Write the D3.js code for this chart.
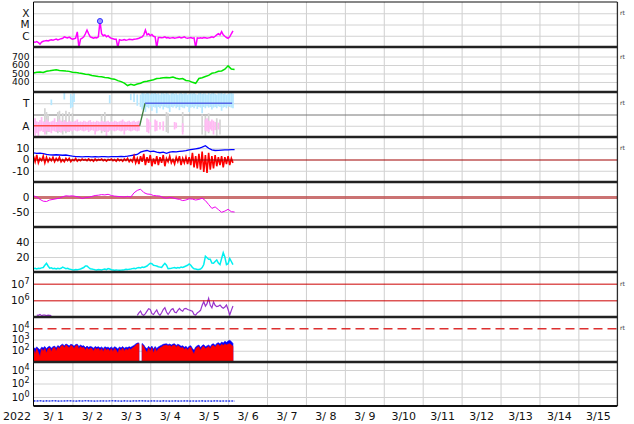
<!DOCTYPE html>
<html><head><meta charset="utf-8">
<script src="https://cdn.jsdelivr.net/npm/d3@7"></script>
<style>body{margin:0;background:#fff} text{font-family:"DejaVu Sans",sans-serif}</style>
</head><body><svg id="c" width="634" height="424"></svg>
<script>
// ---------------- DATA (hourly from 2022-03-01 00:00 unless noted) ----------------
const xLabels = ["3/ 1","3/ 2","3/ 3","3/ 4","3/ 5","3/ 6","3/ 7","3/ 8","3/ 9","3/10","3/11","3/12","3/13","3/14","3/15"];
const yearLabel = "2022";

// Panel 1: X-ray flux (W/m2), hourly
const xray = [2.8e-7,2.6e-7,3e-7,2.5e-7,1.8e-7,2.7e-7, 3.2e-7,3.5e-7,3.8e-7,3.4e-7,4e-7,4.3e-7,
  4e-7,4.5e-7,5e-7,4.2e-7,4.8e-7,5.5e-7, 6e-7,8e-7,7e-7,6.5e-7,7.5e-7,6e-7,
  5e-7,5.5e-7,6e-7,2.2e-6,9e-8,5e-7, 6e-7,8e-7,1.5e-6,3.2e-6,1.5e-6,8e-7,
  7e-7,6e-7,7e-7,6.5e-7,8e-7,2e-5, 1.5e-6,1e-6,1.2e-6,8e-7,1e-6,7e-7,
  6e-7,5.5e-7,5e-7,5e-7,9e-8,4.5e-7, 4e-7,4.2e-7,4.5e-7,4e-7,4.3e-7,4.8e-7,
  4.6e-7,4.4e-7,4.8e-7,5e-7,5.5e-7,6e-7, 7e-7,8e-7,1.2e-6,3.2e-6,1.2e-6,1.5e-6,
  1e-6,1.3e-6,9e-7,8e-7,9e-8,7e-7, 7e-7,6.5e-7,7e-7,8e-7,6.5e-7,7e-7,
  6e-7,6.5e-7,7e-7,6e-7,6.5e-7,7e-7, 7.5e-7,6.5e-7,7e-7,8e-7,6.5e-7,6e-7,
  6.5e-7,7e-7,6e-7,6.5e-7,9e-8,6.5e-7, 6e-7,6.5e-7,6e-7,7e-7,6.5e-7,6e-7,
  6.5e-7,7e-7,8e-7,7e-7,9e-7,1.2e-6, 1.5e-6,1.2e-6,2.3e-6,1.2e-6,9e-7,7e-7,
  6e-7,8e-7,1.5e-6,2.7e-6];
const flareHours = [41];
const flareFlux = [2e-5];
const xrayTicks = [1e-6,1e-5,1e-4];
const xrayTickLabels = ["C","M","X"];

// Panel 2: solar wind speed (km/s), every 2 hours
const speed = [505,515,518,511,527,531,538,543,535,533, 528,525,514,513,506,501,492,489,476,471,
  464,461,453,449,438,433,416,404,386,358, 374,362,377,386,402,408,417,426,440,443,
  450,453,449,459,445,436,441,418,413,396, 384,441,450,464,478,502,510,527,530,550,
  590,553,546];
const speedTicks = [400,500,600,700];

// Panel 3: IMF sector angle (deg); A = 90, T = 270
const sectorTicks = [90,270];
const sectorTickLabels = ["A","T"];
const sectorHours = [0,65.5,68.8,122.5];
const sectorAngles = [90,90,270,270];
const awayHi = [130,150,125,120,135,160,125,120,140,130,120, 125,130,150,120,125,140,130,120,135,125,120,
  130,125,120,125,130,140,120,125,120,130,125, 120,130,135,120,125,120,130,125,120,130,125,
  120,125,130,120,125,120,130,125,120,125,130, 140,125,120,125,130,120,125,130,120,125,130];
const awayLo = [40,10,30,5,45,50,40,20,50,45,40, 30,50,45,40,50,45,35,50,45,50,40,
  45,50,45,55,50,45,50,55,50,45,50, 55,40,50,55,50,20,45,50,55,50,45,
  50,10,40,50,55,50,45,50,55,50,45, 50,20,50,55,50,45,50,55,50,45,50];
const towardStart = 66;
const towardHi = [340,355,350,345,358,350,340,352,348,355, 345,350,340,355,350,345,352,348,340,350,
  355,345,350,340,348,352,345,350,355,340, 345,350,348,352,345,340,350,355,345,350,
  348,340,352,345,350,355,345,340,350,348, 352,345,350,340,345,350,352,348];
const towardLo = [240,220,235,200,240,230,245,210,240,235, 190,240,230,245,220,240,235,230,200,240,
  235,245,230,240,215,240,235,230,245,240, 200,235,240,230,245,225,240,235,190,240,
  230,245,235,240,220,235,240,230,245,240, 210,235,240,230,245,240,235,230];
const towardStreaks = [[11,255,300],[19,300,355],[23,230,345],[24,240,330],[25,280,350],[47,270,335],[60,295,345],[62,280,350],[64,250,340]];
const awayStreaks = [[70,40,150],[71,30,140],[72,60,120],[75,45,140],[76,50,130],[78,60,120],[80,50,125],[87,60,120],[88,70,115],[92,20,110],[106,50,140],[107,45,150],[108,40,130],[109,60,125],[110,50,140],[111,20,130],[112,55,120],[114,60,115]];
const grayStreaks = [[7,30,230],[8,20,200],[9,40,180],[15,30,200],[16,40,210],[18,20,190],[20,30,210],[22,40,200],[24,20,190],[42,30,180],[44,40,200],[48,20,170],[82,40,200],[83,30,190],[92,40,200],[104,20,180],[106,10,170],[108,30,190],[113,10,150],[115,20,140]];

// Panel 4: IMF Bt (2-hourly) and Bz (hourly), nT
const bt = [5.8,5.5,5.6,5.2,4.5,4.2,4,4.2,4,3.8, 4,3.5,3,2.6,2.5,2.4,2.6,2.5,2.3,2.5,
  2.4,2.6,2.5,2.4,2.5,2.6,2.5,2.8,2.6,3, 3.5,4,4.5,6.5,7.5,8,7,7.5,6.5,6,
  6.5,5.5,6.5,7,6.8,7.2,7.5,7.8,8.5,9, 9.5,10,11,12.3,10,8.5,8,8.2,8.4,8.5,
  8.6,8.8,8.7];
const bz = [3,-2,4,-3,1,-1,3,-3,2,-2,1,-1, 2,-2,1,-1,2,-2,0,-2,1,-1,1,-2,
  0,-1,1,-1.5,0,-1,0.5,-0.5,0,-1,0.5,-1, 0,-1.5,0.5,-1,0,-0.5,0.5,-1,0,-1.5,0,-0.5,
  0.5,-1,0,-1.5,0.5,-1,0,-1.5,0.5,-1,1,-2, 0,-2,3,-3,1,-4,3,-2,5,-5,2,-3,
  4,-6,1,-4,3,-5,2,-3,4,-6,1,-2, 3,-3,0,-4,2,-2,3,-5,1,-3,2,-4,
  2,-5,6,-7,3,-8,5,-9,7,-11,4,-12, 6,-9,3,-8,4,-6,2,-5,3,-7,2,-4,
  3,-5,1,-3];
const imfTicks = [-10,0,10];

// Panel 5: Dst (nT), every 2 hours
const dst = [4,0,-8,-14,-15,-10,-8,-6,-4,1, 4,3,4,2,0,-5,-2,-1,2,5,
  6,8,7,9,5,3,2,1,0,2, 0,14,22,26,15,10,9,5,4,3,
  -2,-4,-1,-3,-6,-8,-12,-10,-6,-7, -10,-8,-4,-12,-25,-38,-33,-42,-51,-47,
  -41,-49,-50];
const dstTicks = [-50,0];

// Panel 6: density, hourly
const dens = [4.5,5,4.2,5,4.8,5.5,6,9,11.6,8, 5,5.5,4.5,5,4.2,5,4.5,5,6.5,5.5,
  4.5,5,4,3.5,3,2.7,3.2,3,3.5,4, 5,6,8,8,6,4.4,4,3.5,3,2.8,
  3.2,3,2.8,3.5,4,3.2,4.5,4,3,2.8, 2.5,2.8,2.5,2.2,2.5,2.8,3,3.5,3.2,3.8,
  4,4.5,5,4.5,5.5,6,5.5,6.5,6,7, 8,10,11.6,11,9,8.5,8,7,6.5,6.2,
  9,11.6,9,4.4,4.8,5,5.5,6,5.2,6, 5.5,6.5,6,7,8,9,10.7,9,6,4.4,
  4,3.5,3.5,4,6,10,21,19,17,16.9, 12,11.6,14,16,12,9.8,18,25.8,20,9.8,
  11,18,14,9.8];
const densTicks = [20,40];

// Panel 7: proton flux (hourly segments)
const protonEarlyStart = 2;
const protonEarly = [1.3e5,1.25e5,1.4e5,1.2e5,1.3e5,1.28e5,1.22e5,1.3e5,1.25e5,1.2e5];
const protonLateStart = 64;
const protonLate = [1.26e5,1.78e5,2.29e5,1.41e5,1.26e5,1.58e5,2.24e5,3.16e5,2.82e5,1.58e5,
  1.41e5,2e5,2.63e5,1.58e5,1.26e5,1.78e5,2.82e5,3.63e5,2e5,1.41e5,
  2e5,2.82e5,3.16e5,2e5,1.78e5,2.51e5,3.31e5,2.51e5,2.24e5,3.16e5,
  3.31e5,2.82e5,2.63e5,2.4e5,2.24e5,1.41e5,1.32e5,1.78e5,2.09e5,2.51e5,
  5.01e5,8.3e5,4.47e5,6.3e5,1.32e6,5.01e5,3.55e5,7.9e5,5.01e5,4.17e5,
  4.47e5,5.25e5,3.98e5,3.31e5,3.98e5,5.25e5,2.82e5,1.32e5,2.51e5,4.57e5];
const protonTicks = [1e6,1e7];

// Panel 8: particle flux (hourly upper envelopes)
const fluxRed = [140,50,160,70,30,150,90,170,60,150,180,80,
  170,200,90,220,150,260,300,180,320,250,170,300,
  260,150,280,300,140,240,180,200,110,190,120,170,
  160,90,180,130,170,100,160,80,170,110,150,90,
  160,80,170,110,60,160,100,180,90,150,110,170,
  120,180,220,300,400,420,null,350,240,110,70,180,
  90,190,60,170,80,150,180,220,280,300,320,260,
  310,230,300,320,210,290,230,170,200,130,180,110,
  180,200,90,50,150,200,230,110,210,250,150,190,
  240,150,270,300,200,320,360,250,380,300,400,330,
  380,420,330,250];
const fluxBlue = [200,150,220,160,120,210,180,240,150,220,250,170,
  230,260,180,290,230,330,380,280,400,340,260,380,
  340,250,360,380,240,320,260,280,190,260,200,240,
  220,170,240,200,230,180,220,160,230,190,210,170,
  220,160,230,190,140,220,180,240,170,210,190,230,
  200,250,300,400,480,500,null,450,330,190,150,250,
  170,260,140,240,160,220,260,310,370,400,420,350,
  400,320,390,420,300,380,320,250,280,210,250,180,
  250,280,160,110,220,280,320,190,290,340,230,270,
  330,230,370,420,300,450,520,400,600,500,700,560,
  750,850,650,450];
const fluxTicks = [1e2,1e3,1e4];

// Panel 9: every 2 hours
const low9 = [0.27,0.26,0.28,0.25,0.27,0.26,0.28,0.27,0.25,0.26, 0.27,0.28,0.26,0.25,0.27,0.26,0.28,0.27,0.26,0.25,
  0.26,0.27,0.25,0.26,0.28,0.27,0.26,0.25,0.27,0.26, 0.25,0.27,0.26,0.28,0.27,0.25,0.26,0.27,0.26,0.25,
  0.27,0.26,0.25,0.26,0.27,0.25,0.26,0.27,0.25,0.26, 0.25,0.26,0.27,0.25,0.26,0.25,0.27,0.26,0.25,0.26,
  0.25,0.26,0.25];
const low9Ticks = [1e0,1e2,1e4];

// ---------------- DRAWING ----------------
const T0 = new Date(2022,2,1,0,0);
const hr = h => new Date(T0.getTime() + h*3600000);
const svg = d3.select("#c");
const X0 = 33.5, X1 = 617.3;
const x = d3.scaleTime().domain([new Date(2022,2,1), new Date(2022,2,16)]).range([X0, X1]);
const tops = [2,47,92,137,182,227,272,317,362], BOT = 406;
const botOf = i => i < 8 ? tops[i+1] : BOT;

const scales = [
  d3.scaleLog().domain([1e-7,1e-3]).range([botOf(0),tops[0]]),
  d3.scaleLinear().domain([282,812]).range([botOf(1),tops[1]]),
  d3.scaleLinear().domain([0,360]).range([botOf(2),tops[2]]),
  d3.scaleLinear().domain([-20,20]).range([botOf(3),tops[3]]),
  d3.scaleLinear().domain([-100,50]).range([botOf(4),tops[4]]),
  d3.scaleLinear().domain([0,60]).range([botOf(5),tops[5]]),
  d3.scaleLog().domain([1e5,Math.pow(10,7.7)]).range([botOf(6),tops[6]]),
  d3.scaleLog().domain([1e1,1e5]).range([botOf(7),tops[7]]),
  d3.scaleLog().domain([Math.pow(10,-1.33),Math.pow(10,5.19)]).range([botOf(8),tops[8]])
];

const defs = svg.append("defs");
const panels = scales.map((s,i) => {
  defs.append("clipPath").attr("id","cp"+i).append("rect")
    .attr("x",X0).attr("y",tops[i]).attr("width",X1-X0).attr("height",botOf(i)-tops[i]);
  return svg.append("g").attr("clip-path",`url(#cp${i})`);
});

// vertical day gridlines
const dayBounds = xLabels.map((d,i) => hr(24*(i+1)));
svg.insert("g",":first-child").attr("transform",`translate(0,${BOT})`)
  .call(d3.axisBottom(x).tickValues(dayBounds).tickSize(-(BOT-tops[0])).tickFormat(""))
  .call(g => g.select(".domain").remove())
  .call(g => g.selectAll("line").attr("stroke","#cfcfcf").attr("stroke-width",1));

function grid(i, ticks, color, width, dash) {
  panels[i].append("g").attr("transform",`translate(${X0},0)`)
    .call(d3.axisLeft(scales[i]).tickValues(ticks).tickSize(-(X1-X0)).tickFormat(""))
    .call(g => g.select(".domain").remove())
    .call(g => g.selectAll("line").attr("stroke",color).attr("stroke-width",width).attr("stroke-dasharray",dash||null));
}
const LG = "#d2d2d2";
grid(0, xrayTicks, LG, 1);
grid(1, speedTicks, LG, 1);
grid(2, sectorTicks, LG, 1);
grid(2, [180], "#777", 1);
grid(3, [-10,10], LG, 1);
grid(4, [-50], LG, 1);
grid(5, densTicks, LG, 1);
grid(7, [1e2,1e3], LG, 1);
grid(8, low9Ticks, LG, 1);

function line(i, data, h0, step, color, w, extra) {
  const s = scales[i];
  const p = panels[i].append("path").datum(data)
    .attr("fill","none").attr("stroke",color).attr("stroke-width",w)
    .attr("d", d3.line().defined(v => v != null).x((v,k) => x(hr(h0+k*step))).y(v => s(v)));
  if (extra) extra(p);
  return p;
}

// Panel 1
line(0, xray, 0, 1, "#ff00ff", 1.5);
panels[0].selectAll("circle.fl").data(flareHours).join("circle")
  .attr("cx", (h) => x(hr(h))).attr("cy", (h,k) => scales[0](flareFlux[k])).attr("r",2.6)
  .attr("fill","#9a9aff").attr("stroke","#3030ff").attr("stroke-width",1);

// Panel 2
line(1, speed, 0, 2, "#00e600", 1.5);

// Panel 3
function bars(data, color) {
  panels[2].append("g").selectAll("rect").data(data).join("rect")
    .attr("x", d => x(hr(d[0])) - 0.85).attr("width",1.7)
    .attr("y", d => scales[2](d[2])).attr("height", d => scales[2](d[1]) - scales[2](d[2]))
    .attr("fill", color);
}
bars(grayStreaks, "#d4d4d4");
bars(awayHi.map((v,k) => [k, awayLo[k], v]), "#ffbaf3");
bars(awayStreaks, "#ffbaf3");
bars(towardHi.map((v,k) => [towardStart+k, towardLo[k], v]), "#b5e7ff");
bars(towardStreaks, "#b5e7ff");
const segCol = ["#ff4a4a","#3d7d3d","#5566e6"];
for (let k=0;k<3;k++) {
  panels[2].append("line")
    .attr("x1", x(hr(sectorHours[k]))).attr("x2", x(hr(sectorHours[k+1])))
    .attr("y1", scales[2](sectorAngles[k])).attr("y2", scales[2](sectorAngles[k+1]))
    .attr("stroke", segCol[k]).attr("stroke-width", 1.3);
}

// Panel 4
line(3, bt, 0, 2, "#0000ff", 1.3);
line(3, bz, 0, 1, "#ff0000", 1.6);
grid(3, [0], "#a00000", 1);

// Panel 5
grid(4, [0], "rgba(190,80,80,0.8)", 3);
line(4, dst, 0, 2, "#ee00ee", 1);

// Panel 6
line(5, dens, 0, 1, "#00f0f0", 1.5);

// Panel 7
line(6, protonEarly, protonEarlyStart, 1, "#9933cc", 1.2);
line(6, protonLate, protonLateStart, 1, "#9933cc", 1.2);
grid(6, protonTicks, "#cc0000", 1);

// Panel 8
function area(data, color) {
  const s = scales[7];
  panels[7].append("path").datum(data).attr("fill",color).attr("stroke",color).attr("stroke-width",0.6)
    .attr("d", d3.area().defined(v => v != null).x((v,k) => x(hr(k))).y0(botOf(7)).y1(v => s(v)));
}
area(fluxBlue, "#0000ff");
area(fluxRed, "#ff0000");
grid(7, [1e4], "#dd3030", 1.5, "9,5");

// Panel 9
line(8, low9, 0, 2, "#3344ee", 1.6, p => p.attr("stroke-dasharray","2,1"));

// Borders
const fr = svg.append("g");
fr.append("line").attr("x1",X0).attr("x2",X0).attr("y1",tops[0]).attr("y2",BOT).attr("stroke","#000").attr("stroke-width",1);
fr.append("line").attr("x1",X1).attr("x2",X1).attr("y1",tops[0]).attr("y2",BOT).attr("stroke","#000").attr("stroke-width",1);
fr.append("line").attr("x1",X0).attr("x2",X1).attr("y1",tops[0]).attr("y2",tops[0]).attr("stroke","#111").attr("stroke-width",1.2);
tops.slice(1).forEach(t => fr.append("line").attr("x1",X0).attr("x2",X1).attr("y1",t).attr("y2",t).attr("stroke","#222").attr("stroke-width",2.6));
fr.append("line").attr("x1",X0).attr("x2",X1).attr("y1",BOT).attr("y2",BOT).attr("stroke","#111").attr("stroke-width",2);

// Y labels
function yLabels(i, ticks, fmt, sup, fs) {
  const g = svg.append("g").attr("transform",`translate(${X0},0)`)
    .call(d3.axisLeft(scales[i]).tickValues(ticks).tickSize(0).tickPadding(4).tickFormat(fmt || (d => d)));
  g.select(".domain").remove();
  g.selectAll("text").attr("font-size",fs || 10.5).attr("fill","#111").attr("font-family","DejaVu Sans");
  if (sup) {
    g.selectAll(".tick text").each(function(d){
      const t = d3.select(this); t.text(null);
      t.append("tspan").text("10");
      t.append("tspan").attr("dy","-0.5em").attr("font-size","8px").text(Math.round(Math.log10(d)));
    });
  }
}
yLabels(0, xrayTicks, (d,k) => xrayTickLabels[k]);
yLabels(1, speedTicks, null, false, 9.2);
yLabels(2, sectorTicks, (d,k) => sectorTickLabels[k]);
yLabels(3, imfTicks, d => (d<0?"-":"")+Math.abs(d));
yLabels(4, dstTicks, d => (d<0?"-":"")+Math.abs(d));
yLabels(5, densTicks);
yLabels(6, protonTicks, null, true);
yLabels(7, fluxTicks, null, true, 10);
yLabels(8, low9Ticks, null, true, 10);

// "rt" marks on the right
[[0,1e-4],[1,700],[2,270],[3,10],[6,1e7],[7,1e4]].forEach(([i,v]) => {
  svg.append("text").attr("x",620).attr("y",scales[i](v)+2).attr("font-size",6).attr("fill","#333").text("rt");
});

// X axis labels
const xa = svg.append("g").attr("transform",`translate(0,${BOT})`)
  .call(d3.axisBottom(x).tickValues(xLabels.map((d,i) => hr(24*i+12))).tickSize(0).tickPadding(6)
    .tickFormat((d,i) => xLabels[i]));
xa.select(".domain").remove();
xa.selectAll("text").attr("font-size",11).attr("fill","#111").attr("font-family","DejaVu Sans").style("white-space","pre");
svg.append("text").attr("x",17).attr("y",BOT+14).attr("text-anchor","middle").attr("font-size",11).attr("fill","#111").text(yearLabel);
</script></body></html>
